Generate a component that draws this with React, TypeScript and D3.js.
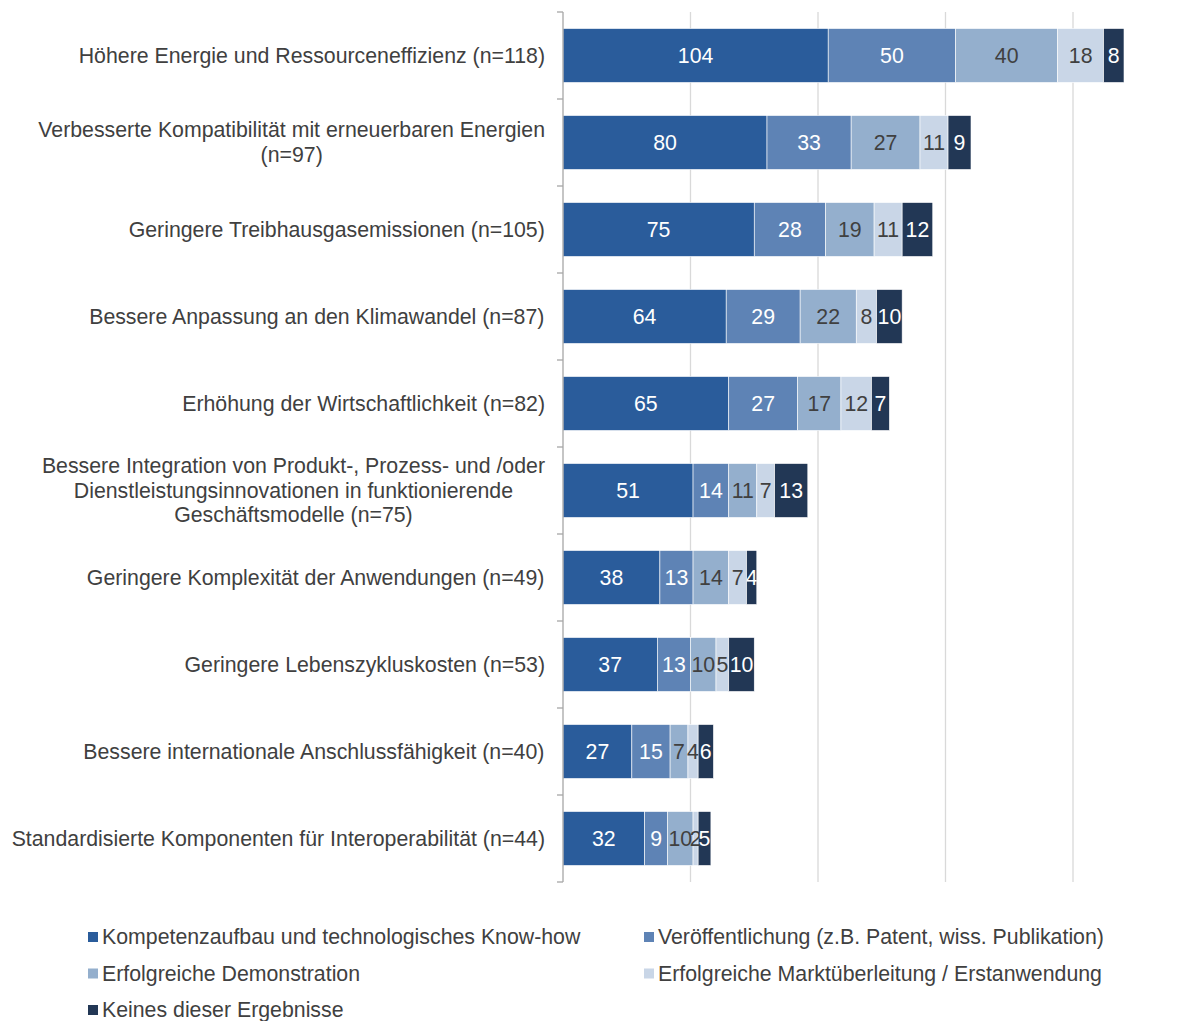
import { useMemo } from "react";
import * as d3 from "d3";

const W = 1196;
const H = 1021;
const FONT = "'Liberation Sans', Arial, sans-serif";
const FS = 21.3;
const TEXT = "#404040";

const categories: string[][] = [
  ["Höhere Energie und Ressourceneffizienz (n=118)"],
  ["Verbesserte Kompatibilität mit erneuerbaren Energien", "(n=97)"],
  ["Geringere Treibhausgasemissionen (n=105)"],
  ["Bessere Anpassung an den Klimawandel (n=87)"],
  ["Erhöhung der Wirtschaftlichkeit (n=82)"],
  [
    "Bessere Integration von Produkt-, Prozess- und /oder",
    "Dienstleistungsinnovationen in funktionierende",
    "Geschäftsmodelle (n=75)",
  ],
  ["Geringere Komplexität der Anwendungen (n=49)"],
  ["Geringere Lebenszykluskosten (n=53)"],
  ["Bessere internationale Anschlussfähigkeit (n=40)"],
  ["Standardisierte Komponenten für Interoperabilität (n=44)"],
];

const seriesNames = [
  "Kompetenzaufbau und technologisches Know-how",
  "Veröffentlichung (z.B. Patent, wiss. Publikation)",
  "Erfolgreiche Demonstration",
  "Erfolgreiche Marktüberleitung / Erstanwendung",
  "Keines dieser Ergebnisse",
];

const kompetenz = [104, 80, 75, 64, 65, 51, 38, 37, 27, 32];
const veroeffentlichung = [50, 33, 28, 29, 27, 14, 13, 13, 15, 9];
const demonstration = [40, 27, 19, 22, 17, 11, 14, 10, 7, 10];
const markt = [18, 11, 11, 8, 12, 7, 7, 5, 4, 2];
const keines = [8, 9, 12, 10, 7, 13, 4, 10, 6, 5];

const gridTicks = [50, 100, 150, 200];

const colors = ["#2a5c9b", "#5e83b5", "#94afcd", "#c9d6e7", "#223755"];
const labelColors = ["#ffffff", "#ffffff", TEXT, TEXT, "#ffffff"];

const measure = (() => {
  let ctx: CanvasRenderingContext2D | null = null;
  return (s: string) => {
    if (!ctx) {
      ctx = document.createElement("canvas").getContext("2d");
      if (ctx) ctx.font = `${FS}px ${FONT}`;
    }
    return ctx ? ctx.measureText(s).width : s.length * 10;
  };
})();

export default function App() {
  const series = [kompetenz, veroeffentlichung, demonstration, markt, keines];

  const rows = useMemo(
    () =>
      categories.map((c, i) => {
        const obj: Record<string, number> = {};
        series.forEach((s, k) => (obj["s" + k] = s[i]));
        return { key: String(i), ...obj };
      }),
    []
  );

  const stacked = d3.stack<any>().keys(series.map((_, k) => "s" + k))(rows);

  const x = d3.scaleLinear().domain([0, 250]).range([563, 1200.5]);
  const y = d3
    .scaleBand()
    .domain(categories.map((_, i) => String(i)))
    .range([12, 882])
    .paddingInner(0.38)
    .paddingOuter(0.19);
  const step = y.step();
  const bw = y.bandwidth();

  return (
    <svg
      width={W}
      height={H}
      style={{ position: "absolute", left: 0, top: 0, background: "#fff" }}
      fontFamily={FONT}
    >
      <defs>
        {stacked[4].map((d, i) => (
          <clipPath id={"clip" + i} key={i}>
            <rect x={x(d[0])} y={y(String(i))} width={x(d[1]) - x(d[0])} height={bw} />
          </clipPath>
        ))}
      </defs>

      {/* gridlines */}
      {gridTicks.map((t) => (
        <line key={t} x1={x(t)} x2={x(t)} y1={12} y2={882} stroke="#d9d9d9" strokeWidth={1.3} />
      ))}

      {/* bars */}
      {stacked.map((layer, k) => (
        <g key={k}>
          {layer.map((d, i) => (
            <rect
              key={i}
              x={x(d[0])}
              y={y(String(i))}
              width={x(d[1]) - x(d[0])}
              height={bw}
              fill={colors[k]}
              stroke="#ffffff"
              strokeWidth={0.6}
            />
          ))}
        </g>
      ))}

      {/* value labels */}
      {stacked.map((layer, k) => (
        <g key={"l" + k}>
          {layer.map((d, i) => (
            <text
              key={i}
              x={(x(d[0]) + x(d[1])) / 2}
              y={(y(String(i)) as number) + bw / 2}
              textAnchor="middle"
              dominantBaseline="central"
              fontSize={FS}
              fill={labelColors[k]}
              clipPath={k === 4 ? `url(#clip${i})` : undefined}
            >
              {d[1] - d[0]}
            </text>
          ))}
        </g>
      ))}

      {/* axis */}
      <line x1={563} x2={563} y1={12} y2={882} stroke="#a6a6a6" strokeWidth={1.3} />
      {d3.range(categories.length + 1).map((i) => (
        <line
          key={i}
          x1={557}
          x2={563}
          y1={12 + i * step}
          y2={12 + i * step}
          stroke="#a6a6a6"
          strokeWidth={1.3}
        />
      ))}

      {/* category labels */}
      {categories.map((lines, i) => {
        const maxW = d3.max(lines, (l) => measure(l)) || 0;
        const cx = 545 - maxW / 2;
        const cy = (y(String(i)) as number) + bw / 2;
        const lh = 24.5;
        const y0 = cy - ((lines.length - 1) * lh) / 2;
        return (
          <text key={i} fontSize={FS} fill={TEXT} textAnchor="middle" dominantBaseline="central">
            {lines.map((l, j) => (
              <tspan key={j} x={cx} y={y0 + j * lh}>
                {l}
              </tspan>
            ))}
          </text>
        );
      })}

      {/* legend */}
      {seriesNames.map((name, k) => {
        const col = k % 2;
        const row = Math.floor(k / 2);
        const lx = col === 0 ? 88 : 644;
        const ly = 937 + row * 36.5;
        return (
          <g key={name}>
            <rect x={lx} y={ly - 5} width={10} height={10} fill={colors[k]} />
            <text x={lx + 14} y={ly} fontSize={FS} fill={TEXT} dominantBaseline="central">
              {name}
            </text>
          </g>
        );
      })}
    </svg>
  );
}
